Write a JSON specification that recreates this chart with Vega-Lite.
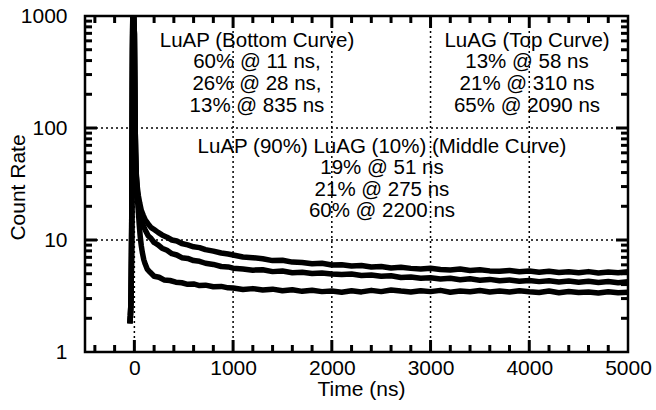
{
  "$schema": "https://vega.github.io/schema/vega-lite/v6.json",
  "autosize": "none",
  "width": 543,
  "height": 336,
  "padding": {"left": 85, "top": 16, "right": 28, "bottom": 58},
  "background": "white",
  "config": {"view": {"stroke": "black", "strokeWidth": 2.5}, "font": "Liberation Sans"},
  "datasets": {
    "curves": [
      {"s":"top","t":-45,"v":1.8},{"s":"top","t":-40,"v":2.1},{"s":"top","t":-36,"v":2.6},{"s":"top","t":-33,"v":3.4},{"s":"top","t":-31,"v":4.8},{"s":"top","t":-29,"v":7.5},{"s":"top","t":-27,"v":13},{"s":"top","t":-25,"v":30},{"s":"top","t":-23,"v":80},{"s":"top","t":-21,"v":220},{"s":"top","t":-19,"v":500},{"s":"top","t":-16,"v":1000},{"s":"top","t":-6,"v":1000},{"s":"top","t":0,"v":700},{"s":"top","t":3,"v":330},{"s":"top","t":6,"v":160},{"s":"top","t":9,"v":90},{"s":"top","t":12,"v":62},{"s":"top","t":16,"v":46},{"s":"top","t":20,"v":38},{"s":"top","t":25,"v":33},
      {"s":"top","t":30,"v":29.5},{"s":"top","t":40,"v":25},{"s":"top","t":55,"v":21.2},{"s":"top","t":70,"v":18.4},{"s":"top","t":90,"v":16.6},{"s":"top","t":110,"v":15.1},{"s":"top","t":140,"v":13.9},{"s":"top","t":170,"v":12.9},{"s":"top","t":200,"v":12.4},{"s":"top","t":240,"v":11.7},{"s":"top","t":280,"v":11.1},{"s":"top","t":330,"v":10.6},{"s":"top","t":380,"v":10.0},{"s":"top","t":430,"v":9.8},{"s":"top","t":480,"v":9.3},{"s":"top","t":540,"v":9.05},{"s":"top","t":600,"v":8.7},{"s":"top","t":660,"v":8.55},{"s":"top","t":720,"v":8.2},{"s":"top","t":800,"v":7.95},{"s":"top","t":880,"v":7.65},{"s":"top","t":950,"v":7.5},
      {"s":"top","t":1000,"v":7.35},{"s":"top","t":1100,"v":7.05},{"s":"top","t":1200,"v":6.95},{"s":"top","t":1300,"v":6.8},{"s":"top","t":1400,"v":6.55},{"s":"top","t":1500,"v":6.6},{"s":"top","t":1600,"v":6.35},{"s":"top","t":1700,"v":6.3},{"s":"top","t":1800,"v":6.15},{"s":"top","t":1900,"v":6.2},{"s":"top","t":2000,"v":5.98},{"s":"top","t":2100,"v":6.02},{"s":"top","t":2200,"v":5.85},{"s":"top","t":2300,"v":5.92},{"s":"top","t":2400,"v":5.75},{"s":"top","t":2500,"v":5.8},{"s":"top","t":2600,"v":5.62},{"s":"top","t":2700,"v":5.7},{"s":"top","t":2800,"v":5.58},{"s":"top","t":2900,"v":5.5},{"s":"top","t":3000,"v":5.6},{"s":"top","t":3100,"v":5.45},{"s":"top","t":3200,"v":5.4},{"s":"top","t":3300,"v":5.5},{"s":"top","t":3400,"v":5.35},{"s":"top","t":3500,"v":5.42},{"s":"top","t":3600,"v":5.3},{"s":"top","t":3700,"v":5.25},{"s":"top","t":3800,"v":5.35},{"s":"top","t":3900,"v":5.2},{"s":"top","t":4000,"v":5.28},{"s":"top","t":4100,"v":5.15},{"s":"top","t":4200,"v":5.25},{"s":"top","t":4300,"v":5.12},{"s":"top","t":4400,"v":5.2},{"s":"top","t":4500,"v":5.1},{"s":"top","t":4600,"v":5.22},{"s":"top","t":4700,"v":5.08},{"s":"top","t":4800,"v":5.18},{"s":"top","t":4900,"v":5.1},{"s":"top","t":5000,"v":5.2},

      {"s":"mid","t":-45,"v":1.8},{"s":"mid","t":-40,"v":2.1},{"s":"mid","t":-36,"v":2.6},{"s":"mid","t":-33,"v":3.4},{"s":"mid","t":-31,"v":4.8},{"s":"mid","t":-29,"v":7.5},{"s":"mid","t":-27,"v":13},{"s":"mid","t":-25,"v":30},{"s":"mid","t":-23,"v":80},{"s":"mid","t":-21,"v":220},{"s":"mid","t":-19,"v":500},{"s":"mid","t":-16,"v":1000},{"s":"mid","t":-6,"v":1000},{"s":"mid","t":0,"v":700},{"s":"mid","t":3,"v":330},{"s":"mid","t":6,"v":160},{"s":"mid","t":9,"v":90},{"s":"mid","t":12,"v":62},{"s":"mid","t":16,"v":46},{"s":"mid","t":20,"v":37},{"s":"mid","t":25,"v":31},
      {"s":"mid","t":30,"v":27},{"s":"mid","t":40,"v":22},{"s":"mid","t":55,"v":18},{"s":"mid","t":70,"v":15.6},{"s":"mid","t":90,"v":13.4},{"s":"mid","t":110,"v":12.3},{"s":"mid","t":140,"v":10.9},{"s":"mid","t":170,"v":10.3},{"s":"mid","t":200,"v":9.5},{"s":"mid","t":240,"v":9.05},{"s":"mid","t":280,"v":8.45},{"s":"mid","t":330,"v":8.1},{"s":"mid","t":380,"v":7.55},{"s":"mid","t":430,"v":7.35},{"s":"mid","t":480,"v":6.95},{"s":"mid","t":540,"v":6.85},{"s":"mid","t":600,"v":6.55},{"s":"mid","t":660,"v":6.45},{"s":"mid","t":720,"v":6.2},{"s":"mid","t":800,"v":6.05},{"s":"mid","t":880,"v":5.8},{"s":"mid","t":950,"v":5.75},
      {"s":"mid","t":1000,"v":5.6},{"s":"mid","t":1100,"v":5.5},{"s":"mid","t":1200,"v":5.38},{"s":"mid","t":1300,"v":5.42},{"s":"mid","t":1400,"v":5.22},{"s":"mid","t":1500,"v":5.28},{"s":"mid","t":1600,"v":5.1},{"s":"mid","t":1700,"v":5.15},{"s":"mid","t":1800,"v":5.02},{"s":"mid","t":1900,"v":5.08},{"s":"mid","t":2000,"v":4.98},{"s":"mid","t":2100,"v":4.92},{"s":"mid","t":2200,"v":4.97},{"s":"mid","t":2300,"v":4.82},{"s":"mid","t":2400,"v":4.86},{"s":"mid","t":2500,"v":4.74},{"s":"mid","t":2600,"v":4.8},{"s":"mid","t":2700,"v":4.62},{"s":"mid","t":2800,"v":4.68},{"s":"mid","t":2900,"v":4.55},{"s":"mid","t":3000,"v":4.6},{"s":"mid","t":3100,"v":4.48},{"s":"mid","t":3200,"v":4.55},{"s":"mid","t":3300,"v":4.42},{"s":"mid","t":3400,"v":4.5},{"s":"mid","t":3500,"v":4.38},{"s":"mid","t":3600,"v":4.45},{"s":"mid","t":3700,"v":4.32},{"s":"mid","t":3800,"v":4.4},{"s":"mid","t":3900,"v":4.28},{"s":"mid","t":4000,"v":4.35},{"s":"mid","t":4100,"v":4.25},{"s":"mid","t":4200,"v":4.32},{"s":"mid","t":4300,"v":4.22},{"s":"mid","t":4400,"v":4.3},{"s":"mid","t":4500,"v":4.2},{"s":"mid","t":4600,"v":4.28},{"s":"mid","t":4700,"v":4.18},{"s":"mid","t":4800,"v":4.26},{"s":"mid","t":4900,"v":4.16},{"s":"mid","t":5000,"v":4.24},

      {"s":"bot","t":-45,"v":1.8},{"s":"bot","t":-40,"v":2.1},{"s":"bot","t":-36,"v":2.6},{"s":"bot","t":-33,"v":3.4},{"s":"bot","t":-31,"v":4.8},{"s":"bot","t":-29,"v":7.5},{"s":"bot","t":-27,"v":13},{"s":"bot","t":-25,"v":30},{"s":"bot","t":-23,"v":80},{"s":"bot","t":-21,"v":220},{"s":"bot","t":-19,"v":500},{"s":"bot","t":-16,"v":1000},{"s":"bot","t":-6,"v":1000},{"s":"bot","t":0,"v":700},{"s":"bot","t":3,"v":330},{"s":"bot","t":6,"v":160},{"s":"bot","t":9,"v":90},{"s":"bot","t":12,"v":60},{"s":"bot","t":16,"v":44},{"s":"bot","t":20,"v":35},{"s":"bot","t":25,"v":29},
      {"s":"bot","t":30,"v":24},{"s":"bot","t":40,"v":18},{"s":"bot","t":50,"v":13.5},{"s":"bot","t":60,"v":10.6},{"s":"bot","t":70,"v":8.9},{"s":"bot","t":80,"v":7.8},{"s":"bot","t":95,"v":6.7},{"s":"bot","t":110,"v":6.1},{"s":"bot","t":130,"v":5.5},{"s":"bot","t":160,"v":5.15},{"s":"bot","t":200,"v":4.75},{"s":"bot","t":250,"v":4.65},{"s":"bot","t":300,"v":4.4},{"s":"bot","t":360,"v":4.35},{"s":"bot","t":420,"v":4.2},{"s":"bot","t":480,"v":4.15},{"s":"bot","t":540,"v":4.02},{"s":"bot","t":600,"v":4.05},{"s":"bot","t":660,"v":3.92},{"s":"bot","t":720,"v":3.95},{"s":"bot","t":800,"v":3.82},{"s":"bot","t":880,"v":3.85},{"s":"bot","t":950,"v":3.74},
      {"s":"bot","t":1000,"v":3.72},{"s":"bot","t":1100,"v":3.62},{"s":"bot","t":1200,"v":3.68},{"s":"bot","t":1300,"v":3.58},{"s":"bot","t":1400,"v":3.64},{"s":"bot","t":1500,"v":3.52},{"s":"bot","t":1600,"v":3.6},{"s":"bot","t":1700,"v":3.48},{"s":"bot","t":1800,"v":3.56},{"s":"bot","t":1900,"v":3.46},{"s":"bot","t":2000,"v":3.5},{"s":"bot","t":2100,"v":3.42},{"s":"bot","t":2200,"v":3.52},{"s":"bot","t":2300,"v":3.44},{"s":"bot","t":2400,"v":3.55},{"s":"bot","t":2500,"v":3.46},{"s":"bot","t":2600,"v":3.58},{"s":"bot","t":2700,"v":3.5},{"s":"bot","t":2800,"v":3.44},{"s":"bot","t":2900,"v":3.53},{"s":"bot","t":3000,"v":3.46},{"s":"bot","t":3100,"v":3.55},{"s":"bot","t":3200,"v":3.42},{"s":"bot","t":3300,"v":3.5},{"s":"bot","t":3400,"v":3.45},{"s":"bot","t":3500,"v":3.54},{"s":"bot","t":3600,"v":3.43},{"s":"bot","t":3700,"v":3.5},{"s":"bot","t":3800,"v":3.44},{"s":"bot","t":3900,"v":3.52},{"s":"bot","t":4000,"v":3.45},{"s":"bot","t":4100,"v":3.4},{"s":"bot","t":4200,"v":3.5},{"s":"bot","t":4300,"v":3.38},{"s":"bot","t":4400,"v":3.47},{"s":"bot","t":4500,"v":3.4},{"s":"bot","t":4600,"v":3.44},{"s":"bot","t":4700,"v":3.36},{"s":"bot","t":4800,"v":3.45},{"s":"bot","t":4900,"v":3.38},{"s":"bot","t":5000,"v":3.42}
    ],
    "notes": [
      {"x":1242,"y":598,"label":"LuAP (Bottom Curve)"},
      {"x":1242,"y":384.5,"label":"60% @ 11 ns,"},
      {"x":1242,"y":247,"label":"26% @ 28 ns,"},
      {"x":1242,"y":158.8,"label":"13% @ 835 ns"},
      {"x":3977,"y":598,"label":"LuAG (Top Curve)"},
      {"x":3977,"y":384.5,"label":"13% @ 58 ns"},
      {"x":3977,"y":247,"label":"21% @ 310 ns"},
      {"x":3977,"y":158.8,"label":"65% @ 2090 ns"},
      {"x":2508,"y":67.7,"label":"LuAP (90%) LuAG (10%) (Middle Curve)"},
      {"x":2508,"y":43.5,"label":"19% @ 51 ns"},
      {"x":2508,"y":27.95,"label":"21% @ 275 ns"},
      {"x":2508,"y":17.97,"label":"60% @ 2200 ns"}
    ],
    "gridx": [{"g":0},{"g":1000},{"g":2000},{"g":3000},{"g":4000}],
    "gridy": [{"g":10},{"g":100}],
    "xmajor": [{"k":0},{"k":1000},{"k":2000},{"k":3000},{"k":4000}],
    "xminor": [{"k":-400},{"k":-200},{"k":200},{"k":400},{"k":600},{"k":800},{"k":1200},{"k":1400},{"k":1600},{"k":1800},{"k":2200},{"k":2400},{"k":2600},{"k":2800},{"k":3200},{"k":3400},{"k":3600},{"k":3800},{"k":4200},{"k":4400},{"k":4600},{"k":4800}],
    "ymajor": [{"k":10},{"k":100}],
    "yminor": [{"k":2},{"k":3},{"k":4},{"k":5},{"k":6},{"k":7},{"k":8},{"k":9},{"k":20},{"k":30},{"k":40},{"k":50},{"k":60},{"k":70},{"k":80},{"k":90},{"k":200},{"k":300},{"k":400},{"k":500},{"k":600},{"k":700},{"k":800},{"k":900}]
  },
  "resolve": {"axis": {"x": "independent", "y": "independent"}},
  "layer": [
    {
      "data": {"name": "gridx"},
      "mark": {"type": "rule", "color": "black", "strokeWidth": 1.5, "strokeDash": [2, 3]},
      "encoding": {"x": {"field": "g", "type": "quantitative", "scale": {"domain": [-500, 5000], "nice": false, "zero": false}, "axis": null}}
    },
    {
      "data": {"name": "gridy"},
      "mark": {"type": "rule", "color": "black", "strokeWidth": 1.5, "strokeDash": [2, 3]},
      "encoding": {"y": {"field": "g", "type": "quantitative", "scale": {"type": "log", "domain": [1, 1000], "nice": false}, "axis": null}}
    },
    {
      "data": {"name": "xmajor"},
      "mark": {"type": "rule", "color": "black", "strokeWidth": 3},
      "encoding": {
        "x": {"field": "k", "type": "quantitative", "scale": {"domain": [-500, 5000], "nice": false, "zero": false}, "axis": null},
        "y": {"datum": 1, "type": "quantitative", "scale": {"type": "log", "domain": [1, 1000], "nice": false}, "axis": null},
        "y2": {"datum": 1.28}
      }
    },
    {
      "data": {"name": "xmajor"},
      "mark": {"type": "rule", "color": "black", "strokeWidth": 3},
      "encoding": {
        "x": {"field": "k", "type": "quantitative", "scale": {"domain": [-500, 5000], "nice": false, "zero": false}, "axis": null},
        "y": {"datum": 1000, "type": "quantitative", "scale": {"type": "log", "domain": [1, 1000], "nice": false}, "axis": null},
        "y2": {"datum": 781}
      }
    },
    {
      "data": {"name": "xminor"},
      "mark": {"type": "rule", "color": "black", "strokeWidth": 3},
      "encoding": {
        "x": {"field": "k", "type": "quantitative", "scale": {"domain": [-500, 5000], "nice": false, "zero": false}, "axis": null},
        "y": {"datum": 1, "type": "quantitative", "scale": {"type": "log", "domain": [1, 1000], "nice": false}, "axis": null},
        "y2": {"datum": 1.155}
      }
    },
    {
      "data": {"name": "xminor"},
      "mark": {"type": "rule", "color": "black", "strokeWidth": 3},
      "encoding": {
        "x": {"field": "k", "type": "quantitative", "scale": {"domain": [-500, 5000], "nice": false, "zero": false}, "axis": null},
        "y": {"datum": 1000, "type": "quantitative", "scale": {"type": "log", "domain": [1, 1000], "nice": false}, "axis": null},
        "y2": {"datum": 865.8}
      }
    },
    {
      "data": {"name": "ymajor"},
      "mark": {"type": "rule", "color": "black", "strokeWidth": 3},
      "encoding": {
        "y": {"field": "k", "type": "quantitative", "scale": {"type": "log", "domain": [1, 1000], "nice": false}, "axis": null},
        "x": {"datum": -500, "type": "quantitative", "scale": {"domain": [-500, 5000], "nice": false, "zero": false}, "axis": null},
        "x2": {"datum": -378.5}
      }
    },
    {
      "data": {"name": "ymajor"},
      "mark": {"type": "rule", "color": "black", "strokeWidth": 3},
      "encoding": {
        "y": {"field": "k", "type": "quantitative", "scale": {"type": "log", "domain": [1, 1000], "nice": false}, "axis": null},
        "x": {"datum": 5000, "type": "quantitative", "scale": {"domain": [-500, 5000], "nice": false, "zero": false}, "axis": null},
        "x2": {"datum": 4878.5}
      }
    },
    {
      "data": {"name": "yminor"},
      "mark": {"type": "rule", "color": "black", "strokeWidth": 3},
      "encoding": {
        "y": {"field": "k", "type": "quantitative", "scale": {"type": "log", "domain": [1, 1000], "nice": false}, "axis": null},
        "x": {"datum": -500, "type": "quantitative", "scale": {"domain": [-500, 5000], "nice": false, "zero": false}, "axis": null},
        "x2": {"datum": -429.1}
      }
    },
    {
      "data": {"name": "yminor"},
      "mark": {"type": "rule", "color": "black", "strokeWidth": 3},
      "encoding": {
        "y": {"field": "k", "type": "quantitative", "scale": {"type": "log", "domain": [1, 1000], "nice": false}, "axis": null},
        "x": {"datum": 5000, "type": "quantitative", "scale": {"domain": [-500, 5000], "nice": false, "zero": false}, "axis": null},
        "x2": {"datum": 4929.1}
      }
    },
    {
      "data": {"name": "curves"},
      "mark": {"type": "line", "color": "black", "strokeWidth": 5.5, "strokeJoin": "round", "clip": true},
      "encoding": {
        "x": {"field": "t", "type": "quantitative", "scale": {"domain": [-500, 5000], "nice": false, "zero": false},
          "axis": {"orient": "bottom", "values": [0, 1000, 2000, 3000, 4000, 5000], "format": "d", "ticks": false, "tickSize": 0, "domain": false, "grid": false,
            "labelFontSize": 21, "labelColor": "black", "labelPadding": 5, "labelFlush": false,
            "title": "Time (ns)", "titleFontSize": 21, "titleFontWeight": "normal", "titleColor": "black", "titleX": 276, "titleY": 43, "titleBaseline": "alphabetic", "titleAlign": "center"}},
        "y": {"field": "v", "type": "quantitative", "scale": {"type": "log", "domain": [1, 1000], "nice": false},
          "axis": {"orient": "left", "values": [1, 10, 100, 1000], "format": "d", "ticks": false, "tickSize": 0, "domain": false, "grid": false,
            "labelFontSize": 21, "labelColor": "black", "labelPadding": 18, "labelFlush": false,
            "title": "Count Rate", "titleFontSize": 21, "titleFontWeight": "normal", "titleColor": "black", "titleAngle": -90, "titleX": -67, "titleY": 171, "titleBaseline": "middle", "titleAlign": "center"}},
        "detail": {"field": "s"}
      }
    },
    {
      "data": {"name": "notes"},
      "mark": {"type": "text", "fontSize": 20.5, "align": "center", "baseline": "middle", "color": "black"},
      "encoding": {
        "x": {"field": "x", "type": "quantitative", "scale": {"domain": [-500, 5000], "nice": false, "zero": false}, "axis": null},
        "y": {"field": "y", "type": "quantitative", "scale": {"type": "log", "domain": [1, 1000], "nice": false}, "axis": null},
        "text": {"field": "label"}
      }
    }
  ]
}
